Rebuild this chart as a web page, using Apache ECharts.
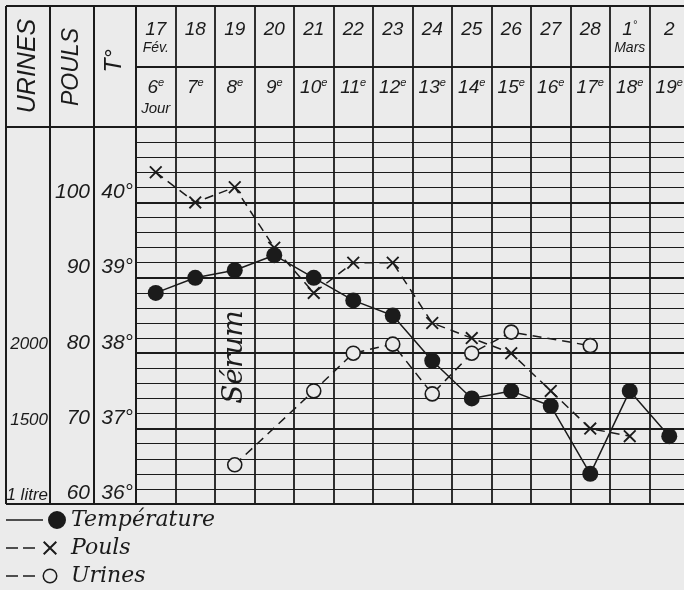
<!DOCTYPE html>
<html>
<head>
<meta charset="utf-8">
<script src="https://cdn.jsdelivr.net/npm/echarts@6/dist/echarts.min.js"></script>
<style>
  html, body { margin: 0; padding: 0; background: #ebebeb; }
  #chart { width: 684px; height: 590px; }
</style>
</head>
<body>
<div id="chart"></div>
<script>
// en-tête : dates et jours de maladie
const dates = ['17', '18', '19', '20', '21', '22', '23', '24', '25', '26', '27', '28', '1', '2'];
const dateSup = ['', '', '', '', '', '', '', '', '', '', '', '', '°', ''];
const months = ['Fév.', '', '', '', '', '', '', '', '', '', '', '', 'Mars', ''];
const days = ['6', '7', '8', '9', '10', '11', '12', '13', '14', '15', '16', '17', '18', '19'];
const dayNote = ['Jour', '', '', '', '', '', '', '', '', '', '', '', '', ''];

// relevés
const temperature = [38.8, 39.0, 39.1, 39.3, 39.0, 38.7, 38.5, 37.9, 37.4, 37.5, 37.3, 36.4, 37.5, 36.9];
const pouls = [104, 100, 102, 94, 88, 92, 92, 84, 82, 80, 75, 70, 69, null];
const urines = [null, null, 1260, null, 1750, 2000, 2060, 1730, 2000, 2140, null, 2050, null, null];

// graduations
const tempLabels = ['36°', '37°', '38°', '39°', '40°'];
const poulsLabels = ['60', '70', '80', '90', '100'];
const urinesLabels = ['1 litre', '1500', '2000'];
const axisNames = ['T°', 'POULS', 'URINES'];
const seriesNames = ['Température', 'Pouls', 'Urines'];
const serum = 'Sérum';

const ink = '#1b1b1b';
const bg = '#ebebeb';
const sans = 'Liberation Sans';
const serif = 'DejaVu Serif';

const crossPath = 'path://M0,1.4L1.4,0L14,12.6L12.6,14z M12.6,0L14,1.4L1.4,14L0,12.6z';
const legTemp = 'path://M0,8.2h37v1.6H0z M42,9a9,9 0 1,0 18,0a9,9 0 1,0 -18,0z';
const legPouls = 'path://M0,8.2h12v1.6H0z M17,8.2h12v1.6H17z M37,3.4L38.4,2L51,14.6L49.6,16z M49.6,2L51,3.4L38.4,16L37,14.6z M0,0M60,18';
const legUrines = 'path://M0,8.2h12v1.6H0z M17,8.2h12v1.6H17z M36.5,9a7.5,7.5 0 1,0 15,0a7.5,7.5 0 1,0 -15,0z M38,9a6,6 0 1,1 12,0a6,6 0 1,1 -12,0z M0,0M60,18';

const chart = echarts.init(document.getElementById('chart'));

function catAxis(gridIndex, extra) {
  return Object.assign({
    type: 'category', gridIndex: gridIndex, data: dates, boundaryGap: true,
    axisLine: { show: false }, axisTick: { show: false }, axisLabel: { show: false },
    splitLine: { show: true, interval: 0, lineStyle: { color: ink, width: 1.8 } }
  }, extra || {});
}

function txt(size, extra) {
  return Object.assign({ fontFamily: sans, fontStyle: 'italic', fontSize: size, color: ink }, extra || {});
}

const yLabel = (size) => ({
  show: true, margin: 3, verticalAlign: 'bottom', lineHeight: size,
  fontFamily: sans, fontStyle: 'italic', fontSize: size, color: ink
});

const yName = (size, lh) => ({
  fontFamily: sans, fontStyle: 'italic', fontSize: size, color: ink,
  align: 'center', verticalAlign: 'bottom', lineHeight: lh
});

const option = {
  backgroundColor: bg,
  animation: false,
  grid: [
    { left: 136, width: 553, top: 127, bottom: 86, outerBoundsMode: 'none' },
    { left: 136, width: 553, top: 6, height: 61, show: true, borderColor: ink, borderWidth: 2, outerBoundsMode: 'none' },
    { left: 136, width: 553, top: 67, height: 60, show: true, borderColor: ink, borderWidth: 2, outerBoundsMode: 'none' },
    { left: 6, width: 130, top: 6, height: 498, outerBoundsMode: 'none' }
  ],
  xAxis: [
    catAxis(0),
    catAxis(1, {
      position: 'top',
      axisLabel: {
        show: true, inside: true, interval: 0, margin: 13, verticalAlign: 'top',
        formatter: (v, i) => {
          let s = '{d|' + v + '}';
          if (dateSup[i]) s += '{u|' + dateSup[i] + '}';
          if (months[i]) s += '\n{m|' + months[i] + '}';
          return s;
        },
        rich: {
          d: txt(19, { lineHeight: 21 }),
          u: txt(11, { verticalAlign: 'top' }),
          m: txt(14, { lineHeight: 17 })
        }
      }
    }),
    catAxis(2, {
      position: 'top',
      axisLabel: {
        show: true, inside: true, interval: 0, margin: 10, verticalAlign: 'top',
        formatter: (v, i) => {
          let s = '{n|' + days[i] + '}{s|e}';
          if (dayNote[i]) s += '\n{j|' + dayNote[i] + '}';
          return s;
        },
        rich: {
          n: txt(19, { lineHeight: 22 }),
          s: txt(11, { verticalAlign: 'top' }),
          j: txt(15, { lineHeight: 20 })
        }
      }
    }),
    {
      type: 'value', gridIndex: 3, min: 0, max: 130, interval: 44,
      axisLine: { show: false }, axisTick: { show: false }, axisLabel: { show: false },
      splitLine: { show: true, lineStyle: { color: ink, width: 2 } }
    }
  ],
  yAxis: [
    {
      type: 'value', gridIndex: 0, position: 'left', min: 36, max: 41, interval: 1,
      name: axisNames[0], nameLocation: 'end', nameGap: 66, nameRotate: 90, nameMoveOverlap: false,
      nameTextStyle: yName(23, 42),
      axisLine: { show: false }, axisTick: { show: false },
      axisLabel: Object.assign(yLabel(21), { formatter: (v) => tempLabels[Math.round(v - 36)] || '' }),
      splitLine: { show: true, lineStyle: { color: ink, width: 2 } },
      minorTick: { show: false, splitNumber: 5 },
      minorSplitLine: { show: true, lineStyle: { color: ink, width: 1 } }
    },
    {
      type: 'value', gridIndex: 0, position: 'left', min: 60, max: 110, interval: 10, offset: 42,
      name: axisNames[1], nameLocation: 'end', nameGap: 60, nameRotate: 90, nameMoveOverlap: false,
      nameTextStyle: yName(23, 44),
      axisLine: { show: false }, axisTick: { show: false }, splitLine: { show: false },
      axisLabel: Object.assign(yLabel(21), { margin: 4, formatter: (v) => poulsLabels[Math.round((v - 60) / 10)] || '' })
    },
    {
      type: 'value', gridIndex: 0, position: 'left', min: 1000, max: 3500, interval: 500, offset: 86,
      name: axisNames[2], nameLocation: 'end', nameGap: 61, nameRotate: 90, nameMoveOverlap: false,
      nameTextStyle: yName(25, 44),
      axisLine: { show: false }, axisTick: { show: false }, splitLine: { show: false },
      axisLabel: Object.assign(yLabel(17), { margin: 2, formatter: (v) => urinesLabels[Math.round((v - 1000) / 500)] || '' })
    },
    { type: 'value', gridIndex: 1, min: 0, max: 1, show: false, splitLine: { show: false } },
    { type: 'value', gridIndex: 2, min: 0, max: 1, show: false, splitLine: { show: false } },
    {
      type: 'value', gridIndex: 3, min: 0, max: 498, interval: 377,
      axisLine: { show: false }, axisTick: { show: false }, axisLabel: { show: false },
      splitLine: { show: true, lineStyle: { color: ink, width: 2 } }
    }
  ],
  legend: {
    orient: 'vertical', left: 6, top: 509, padding: 0,
    itemWidth: 60, itemHeight: 18, itemGap: 6,
    selectedMode: false,
    textStyle: { fontFamily: serif, fontStyle: 'italic', fontSize: 22, lineHeight: 22, color: ink },
    data: [
      { name: seriesNames[0], icon: legTemp, itemStyle: { color: ink, borderWidth: 0 } },
      { name: seriesNames[1], icon: legPouls, itemStyle: { color: ink, borderWidth: 0 } },
      { name: seriesNames[2], icon: legUrines, itemStyle: { color: ink, borderWidth: 0 } }
    ]
  },
  series: [
    {
      name: seriesNames[2], type: 'line', xAxisIndex: 0, yAxisIndex: 2, data: urines,
      connectNulls: true, symbol: 'circle', symbolSize: 14,
      lineStyle: { color: ink, width: 1.5, type: [9, 6] },
      itemStyle: { color: bg, borderColor: ink, borderWidth: 1.6 }
    },
    {
      name: seriesNames[1], type: 'line', xAxisIndex: 0, yAxisIndex: 1, data: pouls,
      symbol: crossPath, symbolSize: 13,
      lineStyle: { color: ink, width: 1.5, type: [9, 6] },
      itemStyle: { color: ink }
    },
    {
      name: seriesNames[0], type: 'line', xAxisIndex: 0, yAxisIndex: 0, data: temperature,
      symbol: 'circle', symbolSize: 16,
      lineStyle: { color: ink, width: 1.5 },
      itemStyle: { color: ink },
      markPoint: {
        symbol: 'circle', symbolSize: 1, itemStyle: { color: 'transparent' },
        label: {
          show: true, position: 'inside', formatter: '{b}', rotate: 90,
          fontFamily: serif, fontStyle: 'italic', fontSize: 28, color: ink
        },
        data: [{ name: serum, coord: ['19', 37.95] }]
      }
    }
  ]
};

chart.setOption(option);
</script>
</body>
</html>
